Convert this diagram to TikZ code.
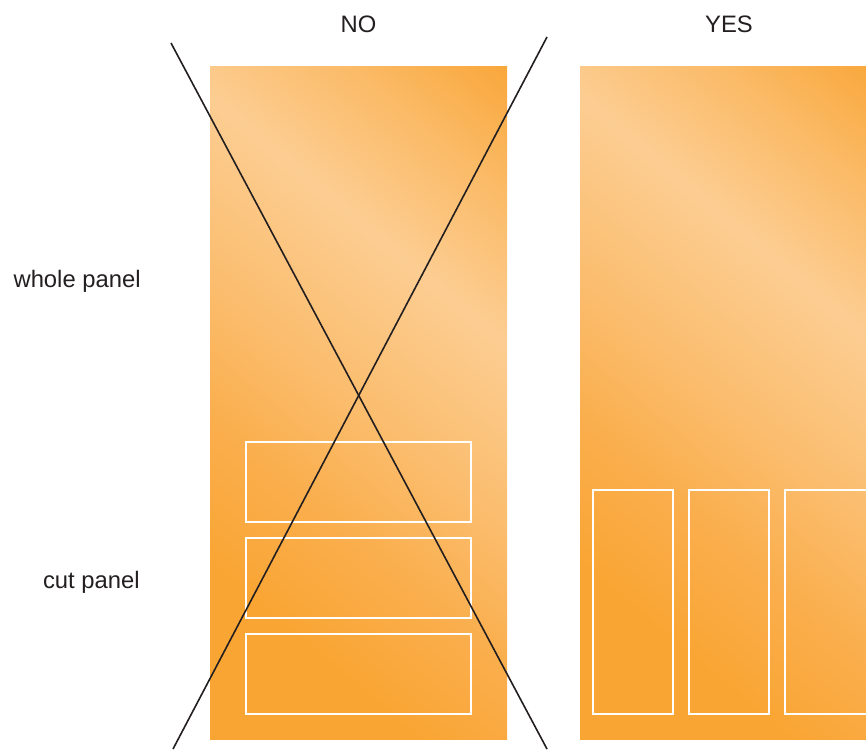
\documentclass[tikz,border=0pt]{standalone}
\usepackage{fontspec}
\setmainfont{Liberation Sans}
\definecolor{odark}{HTML}{F9A533}
\definecolor{omidA}{HTML}{FAAE4C}
\definecolor{omidB}{HTML}{FBBD6E}
\definecolor{olight}{HTML}{FCCD92}
\definecolor{omidC}{HTML}{FBBB68}
\definecolor{otr}{HTML}{F9A73A}
\definecolor{inkgray}{HTML}{231F20}
\pgfdeclareverticalshading{panelgrad}{100bp}{color(0bp)=(odark); color(35bp)=(odark); color(42.6bp)=(omidA); color(50bp)=(omidB); color(59.5bp)=(olight); color(67bp)=(omidC); color(74bp)=(otr); color(100bp)=(otr)}
\begin{document}
\begin{tikzpicture}[x=0.5pt,y=-0.5pt,
  lbl/.style={inner sep=0pt, text=inkgray, font=\fontsize{11.9pt}{14pt}\selectfont},
  cutbox/.style={draw=white, line width=1.35pt},
  crossline/.style={draw=inkgray, line width=0.8pt},
  panelfill/.style={shading=panelgrad, shading angle=-40}]
\useasboundingbox (0,0) rectangle (866,749);
\clip (0,0) rectangle (866,749);
% left panel
\begin{scope}
  \clip (210,67) rectangle (507,739);
  \shade[panelfill] (-11.5,33) rectangle (728.5,773);
\end{scope}
% right panel
\begin{scope}
  \clip (580,67) rectangle (877,739);
  \shade[panelfill] (358.5,33) rectangle (1098.5,773);
\end{scope}
% cut boxes, left
\draw[cutbox] (246,442) rectangle (471,522);
\draw[cutbox] (246,538) rectangle (471,618);
\draw[cutbox] (246,634) rectangle (471,714);
% cut boxes, right
\draw[cutbox] (593,490) rectangle (673,714);
\draw[cutbox] (689,490) rectangle (769,714);
\draw[cutbox] (785,490) rectangle (868,714);
% cross
\coordinate (c1a) at (171,43);
\coordinate (c1b) at (547,749);
\coordinate (c2a) at (547,37);
\coordinate (c2b) at (173,749);
\draw[crossline] (c1a) -- (c1b);
\draw[crossline] (c2a) -- (c2b);
% labels
\node[lbl] (no) at (358.5,24) {NO};
\node[lbl] (yes) at (729,24) {YES};
\node[lbl, anchor=east] (whole) at (141,281) {whole panel};
\node[lbl, anchor=east] (cut) at (140,582) {cut panel};
\end{tikzpicture}
\end{document}
